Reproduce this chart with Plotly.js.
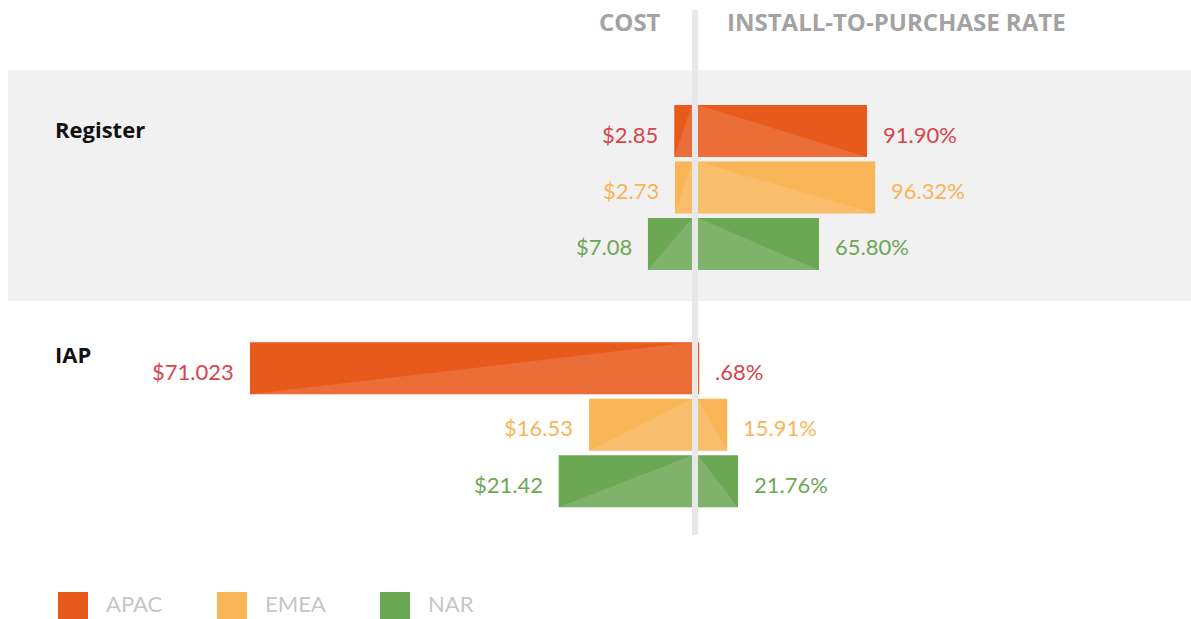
<!DOCTYPE html>
<html>
<head>
<meta charset="utf-8">
<script src="https://cdn.plot.ly/plotly-3.0.1.min.js"></script>
<style>html,body{margin:0;padding:0;background:#fff;}#chart{width:1191px;height:619px;}</style>
</head>
<body>
<div id="chart"></div>
<script>
// ---- data ----
const groups = ["Register", "IAP"];
const regions = ["APAC", "EMEA", "NAR"];
const costRegister = [2.85, 2.73, 7.08];
const costIAP = [71.023, 16.53, 21.42];
const rateRegister = [91.90, 96.32, 65.80];
const rateIAP = [0.68, 15.91, 21.76];
const costLabelsRegister = ["$2.85", "$2.73", "$7.08"];
const costLabelsIAP = ["$71.023", "$16.53", "$21.42"];
const rateLabelsRegister = ["91.90%", "96.32%", "65.80%"];
const rateLabelsIAP = [".68%", "15.91%", "21.76%"];

// ---- styling ----
const barColors = {APAC: "#e8591c", EMEA: "#f9b556", NAR: "#6ca754"};
const textColors = {APAC: "#d6444d", EMEA: "#f9b556", NAR: "#6ca754"};
const W = 1191, H = 619;
const FONT = "Lato, 'Open Sans', sans-serif";
const BOLDFONT = "'Open Sans', Lato, sans-serif";
const groupGap = 4.2;     // row units between group starts
const barW = 0.92;

const costs = [costRegister, costIAP];
const rates = [rateRegister, rateIAP];
const costLbl = [costLabelsRegister, costLabelsIAP];
const rateLbl = [rateLabelsRegister, rateLabelsIAP];

const traces = [];
const annotations = [];
const shapes = [];

regions.forEach((reg, r) => {
  const ys = groups.map((g, gi) => gi * groupGap + r);
  const cx = groups.map((g, gi) => costs[gi][r]);
  const rx = groups.map((g, gi) => rates[gi][r]);
  traces.push({type: "bar", orientation: "h", name: reg, x: cx, y: ys, xaxis: "x", yaxis: "y",
    width: barW, marker: {color: barColors[reg]}, hoverinfo: "skip", showlegend: false});
  traces.push({type: "bar", orientation: "h", name: reg, x: rx, y: ys, xaxis: "x2", yaxis: "y",
    width: barW, marker: {color: barColors[reg]}, hoverinfo: "skip", showlegend: false});
  // lighter triangular sheen, derived from the same values
  [["x", cx], ["x2", rx]].forEach(([ax, vals]) => {
    const tx = [], ty = [];
    vals.forEach((v, i) => {
      const y = ys[i];
      tx.push(0, v, 0, 0, null);
      ty.push(y - barW / 2, y + barW / 2, y + barW / 2, y - barW / 2, null);
    });
    traces.push({type: "scatter", mode: "lines", x: tx, y: ty, xaxis: ax, yaxis: "y",
      fill: "toself", fillcolor: "rgba(255,255,255,0.13)", line: {width: 0},
      hoverinfo: "skip", showlegend: false});
  });
  groups.forEach((g, gi) => {
    annotations.push({x: costs[gi][r], y: ys[gi], xref: "x", yref: "y", xanchor: "right",
      xshift: -14, yshift: -3, text: costLbl[gi][r], showarrow: false,
      font: {family: FONT, size: 22, color: textColors[reg]}});
    annotations.push({x: rates[gi][r], y: ys[gi], xref: "x2", yref: "y", xanchor: "left",
      xshift: 14, yshift: -3, text: rateLbl[gi][r], showarrow: false,
      font: {family: FONT, size: 22, color: textColors[reg]}});
  });
});

// group labels
const groupLabelPx = [129, 354];
groups.forEach((g, gi) => {
  annotations.push({x: 53 / W, y: 1 - groupLabelPx[gi] / H, xref: "paper", yref: "paper",
    xanchor: "left", yanchor: "middle", text: "<b>" + g + "</b>", showarrow: false,
    font: {family: BOLDFONT, size: 22, color: "#111"}});
});

// headers
annotations.push({x: 663 / W, y: 1 - 22 / H, xref: "paper", yref: "paper", xanchor: "right",
  yanchor: "middle", text: "<b>COST</b>", showarrow: false, font: {family: BOLDFONT, size: 24, color: "#a3a3a3"}});
annotations.push({x: 725 / W, y: 1 - 22 / H, xref: "paper", yref: "paper", xanchor: "left",
  yanchor: "middle", text: "<b>INSTALL-TO-PURCHASE RATE</b>", showarrow: false, font: {family: BOLDFONT, size: 24, color: "#a3a3a3"}});

// gray band for first group
shapes.push({type: "rect", xref: "paper", yref: "paper", x0: 8 / W, x1: 1, y0: 1 - 301 / H, y1: 1 - 70 / H,
  fillcolor: "#f1f1f1", line: {width: 0}, layer: "below"});
// divider
shapes.push({type: "line", xref: "paper", yref: "paper", x0: 695 / W, x1: 695 / W, y0: 1 - 535 / H, y1: 1 - 10 / H,
  line: {color: "#e8e8e8", width: 6}, layer: "above"});

// custom legend
const legendX = [58, 217, 380];
regions.forEach((reg, r) => {
  shapes.push({type: "rect", xref: "paper", yref: "paper", x0: legendX[r] / W, x1: (legendX[r] + 30) / W,
    y0: 0, y1: 27 / H, fillcolor: barColors[reg], line: {width: 0}});
  annotations.push({x: (legendX[r] + 46) / W, y: 1 - 603 / H, xref: "paper", yref: "paper",
    xanchor: "left", yanchor: "middle", text: reg, showarrow: false,
    font: {family: FONT, size: 22, color: "#c6c6c6"}});
});

const layout = {
  width: W, height: H,
  margin: {l: 0, r: 0, t: 0, b: 0},
  paper_bgcolor: "#ffffff", plot_bgcolor: "rgba(0,0,0,0)",
  barmode: "overlay",
  showlegend: false,
  xaxis: {domain: [0, 692 / W], range: [111.2, 0], visible: false, fixedrange: true},
  xaxis2: {domain: [698 / W, 1], range: [0, 268], visible: false, anchor: "y", fixedrange: true},
  yaxis: {range: [8.64, -2.32], visible: false, fixedrange: true},
  annotations: annotations,
  shapes: shapes,
  font: {family: FONT}
};

Plotly.newPlot("chart", traces, layout, {displayModeBar: false, staticPlot: true});
</script>
</body>
</html>
